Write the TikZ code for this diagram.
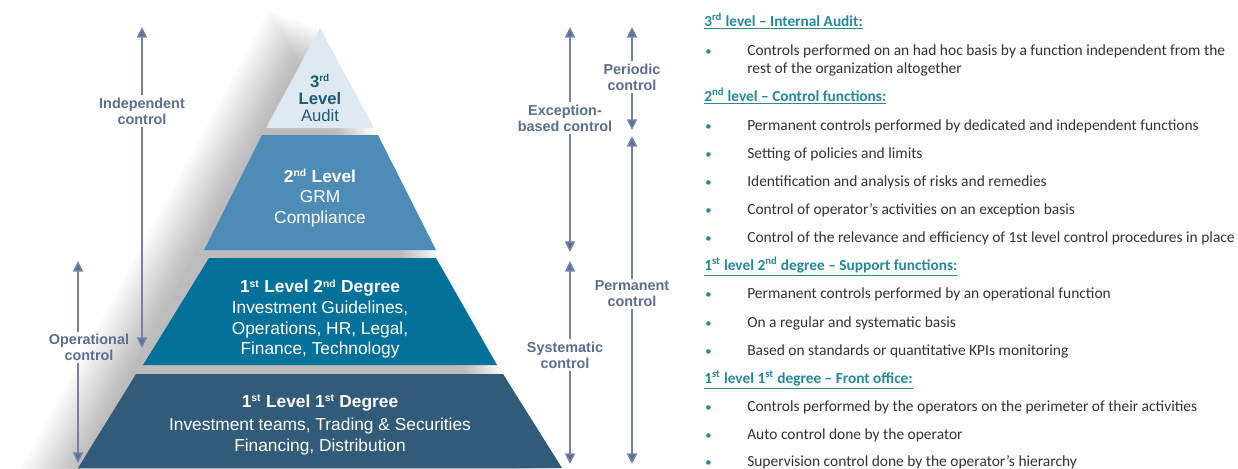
\documentclass[tikz,border=0pt]{standalone}
\usepackage{fontspec}
\setmainfont{Liberation Sans}
\newfontfamily\calib{Carlito}
\usetikzlibrary{arrows.meta}
\definecolor{slate}{HTML}{5D6E93}
\definecolor{slateline}{HTML}{7383A6}
\definecolor{lthree}{HTML}{DDEAF2}
\definecolor{ltwo}{HTML}{4E8CB8}
\definecolor{lonetwo}{HTML}{04719A}
\definecolor{loneone}{HTML}{315B79}
\definecolor{tdark}{HTML}{1F5A78}
\definecolor{headteal}{HTML}{24899A}
\definecolor{bodytxt}{HTML}{333333}
\newcommand{\smsup}[1]{\textsuperscript{\scalebox{0.85}{#1}}}
\begin{document}
\begin{tikzpicture}[x=0.75pt,y=-0.75pt,
  ptext/.style={align=center,text=white,font=\fontsize{13}{15.5}\selectfont,inner sep=0pt},
  lbl/.style={align=center,text=slate,font=\bfseries\fontsize{10.8}{12}\selectfont,inner sep=1.5pt},
  arr/.style={draw=slateline,line width=1.1pt,-{Triangle[width=7.5pt,length=8pt,fill=slate]}},
  hd/.style={anchor=base west,inner sep=0pt,text=headteal,font=\calib\bfseries\fontsize{11.5}{13}\selectfont},
  bl/.style={anchor=base west,inner sep=0pt,text=bodytxt,font=\calib\fontsize{11.6}{13.5}\selectfont},
  dot/.style={anchor=base west,inner sep=0pt,text=headteal,font=\calib\fontsize{9.5}{12}\selectfont},
  shade/.style={fill=black,opacity=0.02}
]
\fill[white] (0,0) rectangle (1238,468);
\useasboundingbox (0,0) rectangle (1238,468);

% shadow
\foreach \i in {1,...,14}{
  \fill[shade,shift={(-3.6*\i,-1.3*\i)}] (320,28) -- (570,490) -- (70,490) -- cycle;
}

% pyramid layers
\fill[lthree] (320,28) -- (374,128) -- (266,128) -- cycle;
\fill[ltwo] (262,135) -- (378,135) -- (436,250) -- (204,250) -- cycle;
\fill[lonetwo] (209,258) -- (436,258) -- (497,365) -- (143,365) -- cycle;
\fill[loneone] (136,374) -- (503,374) -- (562,468) -- (78,468) -- cycle;

% pyramid texts
\node[ptext,text=tdark,font=\fontsize{12.5}{12.75}\selectfont] (p3) at (320,98)
  {\textbf{3\smsup{rd}}\\\textbf{Level}\\Audit};
\node[ptext] (p2) at (320,198) {\textbf{2\smsup{nd} Level}\\GRM\\Compliance};
\node[ptext] (p12) at (320,319)
  {\textbf{1\smsup{st} Level 2\smsup{nd} Degree}\\Investment Guidelines,\\Operations, HR, Legal,\\Finance, Technology};
\node[ptext] (p11) at (320,425)
  {\textbf{1\smsup{st} Level 1\smsup{st} Degree}\\[2pt]Investment teams, Trading \& Securities\\Financing, Distribution};

% left arrows
\node[lbl] (indep) at (142,111) {Independent\\control};
\coordinate (indepT) at (142,27);
\coordinate (indepB) at (142,348);
\draw[arr] (indep.north) -- (indepT);
\draw[arr] (indep.south) -- (indepB);

\node[lbl] (oper) at (89,347.5) {Operational\\control};
\coordinate (operT) at (78,261);
\coordinate (operB) at (78,463);
\draw[arr] (oper.north -| operT) -- (operT);
\draw[arr] (oper.south -| operB) -- (operB);

% right arrows
\node[lbl] (exc) at (565,118) {Exception-\\based control};
\coordinate (excT) at (570,27);
\coordinate (excB) at (570,252);
\draw[arr] (exc.north -| excT) -- (excT);
\draw[arr] (exc.south -| excB) -- (excB);

\node[lbl] (sys) at (565,355) {Systematic\\control};
\coordinate (sysT) at (570,261);
\coordinate (sysB) at (570,464);
\draw[arr] (sys.north -| sysT) -- (sysT);
\draw[arr] (sys.south -| sysB) -- (sysB);

\node[lbl] (per) at (632,77) {Periodic\\control};
\coordinate (perT) at (632,27);
\coordinate (perB) at (632,130);
\draw[arr] (per.north) -- (perT);
\draw[arr] (per.south) -- (perB);

\node[lbl] (perm) at (632,294) {Permanent\\control};
\coordinate (permT) at (632,136);
\coordinate (permB) at (632,464);
\draw[arr] (perm.north) -- (permT);
\draw[arr] (perm.south) -- (permB);

% right text
\node[hd] (h1) at (704,26.5) {\underline{3\textsuperscript{rd} level – Internal Audit:}};
\node[dot] (d1) at (705,55.5) {•};
\node[bl] (t1) at (747,55.5) {Controls performed on an had hoc basis by a function independent from the};
\node[bl] (t1b) at (747,73.5) {rest of the organization altogether};

\node[hd] (h2) at (704,101.5) {\underline{2\textsuperscript{nd} level – Control functions:}};
\node[dot] (d2) at (705,130.5) {•};
\node[bl] (t2) at (747,130.5) {Permanent controls performed by dedicated and independent functions};
\node[dot] (d3) at (705,158.5) {•};
\node[bl] (t3) at (747,158.5) {Setting of policies and limits};
\node[dot] (d4) at (705,186.5) {•};
\node[bl] (t4) at (747,186.5) {Identification and analysis of risks and remedies};
\node[dot] (d5) at (705,214.5) {•};
\node[bl] (t5) at (747,214.5) {Control of operator’s activities on an exception basis};
\node[dot] (d6) at (705,242.5) {•};
\node[bl] (t6) at (747,242.5) {Control of the relevance and efficiency of 1st level control procedures in place};

\node[hd] (h3) at (704,270.5) {\underline{1\textsuperscript{st} level 2\textsuperscript{nd} degree – Support functions:}};
\node[dot] (d7) at (705,298.5) {•};
\node[bl] (t7) at (747,298.5) {Permanent controls performed by an operational function};
\node[dot] (d8) at (705,327.5) {•};
\node[bl] (t8) at (747,327.5) {On a regular and systematic basis};
\node[dot] (d9) at (705,355.5) {•};
\node[bl] (t9) at (747,355.5) {Based on standards or quantitative KPIs monitoring};

\node[hd] (h4) at (704,383.5) {\underline{1\textsuperscript{st} level 1\textsuperscript{st} degree – Front office:}};
\node[dot] (d10) at (705,411.5) {•};
\node[bl] (t10) at (747,411.5) {Controls performed by the operators on the perimeter of their activities};
\node[dot] (d11) at (705,439.5) {•};
\node[bl] (t11) at (747,439.5) {Auto control done by the operator};
\node[dot] (d12) at (705,466.5) {•};
\node[bl] (t12) at (747,466.5) {Supervision control done by the operator’s hierarchy};
\end{tikzpicture}
\end{document}
